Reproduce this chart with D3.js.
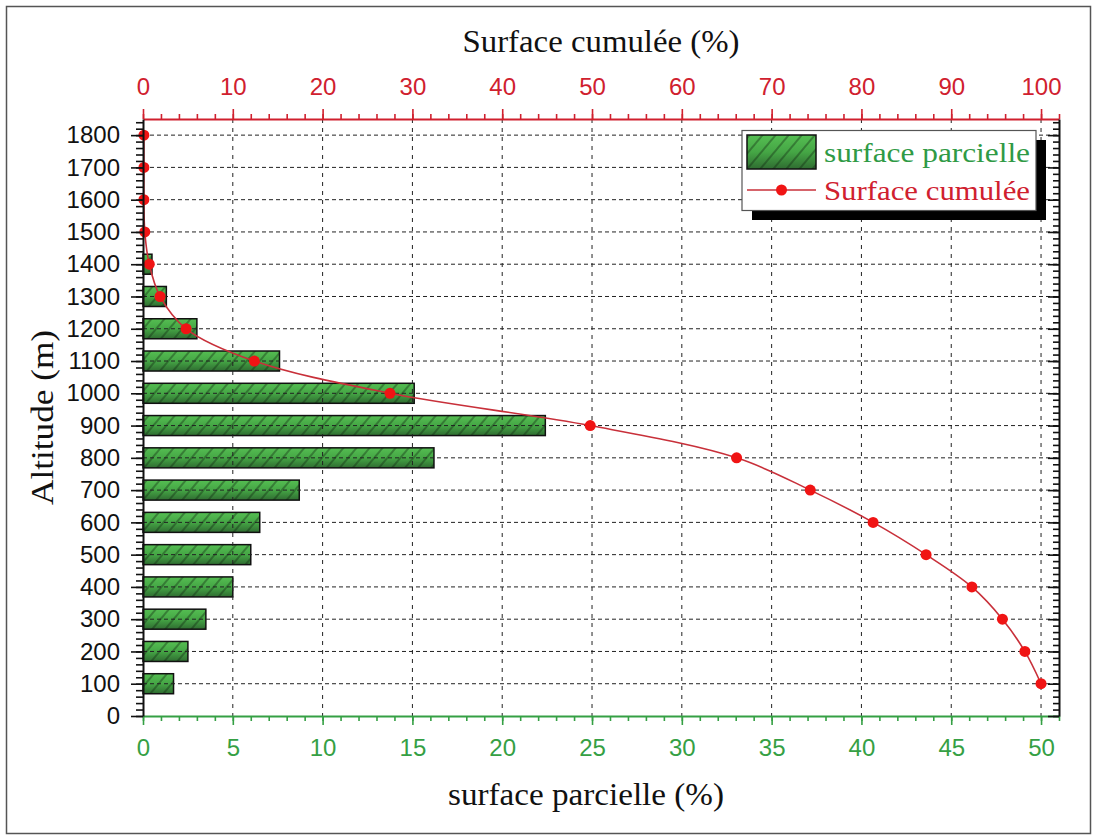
<!DOCTYPE html>
<html><head><meta charset="utf-8">
<script src="https://cdn.jsdelivr.net/npm/d3@7"></script>
<style>body{margin:0;background:#fff} svg{display:block}</style>
</head><body><svg id="c" width="1097" height="840"></svg>
<script>
// ---- data ----
const altitudes = [100,200,300,400,500,600,700,800,900,1000,1100,1200,1300,1400];
const partialSurface = [1.7,2.5,3.5,5.0,6.0,6.5,8.7,16.2,22.4,15.1,7.6,3.0,1.3,0.5];
const cumAltitudes = [100,200,300,400,500,600,700,800,900,1000,1100,1200,1300,1400,1500,1600,1700,1800];
const cumulativeSurface = [100,98.2,95.7,92.3,87.2,81.3,74.3,66.1,49.8,27.5,12.4,4.8,1.9,0.7,0.2,0.1,0.1,0.1];
const bottomTicks = [0,5,10,15,20,25,30,35,40,45,50];
const topTicks = [0,10,20,30,40,50,60,70,80,90,100];
const yTicks = [0,100,200,300,400,500,600,700,800,900,1000,1100,1200,1300,1400,1500,1600,1700,1800];
const seriesNames = ["surface parcielle","Surface cumulée"];
const titles = {top:"Surface cumulée (%)", bottom:"surface parcielle (%)", left:"Altitude (m)"};

// ---- layout ----
const L = 143, R = 1059, T = 119, B = 716;
const RED = "#d0202e", GREEN = "#35a044", LINE = "#c8303a", DOT = "#f01414";
const svg = d3.select("#c");
const x = d3.scaleLinear().domain([0, 51]).range([L, R]);
const xTop = d3.scaleLinear().domain([0, 102]).range([L, R]);
const y = d3.scaleLinear().domain([0, 1850]).range([B, T]);

// frame
svg.append("rect").attr("x",6.5).attr("y",6.5).attr("width",1084).attr("height",827)
  .attr("fill","#fff").attr("stroke","#555").attr("stroke-width",1.5);

// defs
const defs = svg.append("defs");
const grad = defs.append("linearGradient").attr("id","g").attr("x1",0).attr("y1",0).attr("x2",0).attr("y2",1);
grad.append("stop").attr("offset","0%").attr("stop-color","#55be52");
grad.append("stop").attr("offset","50%").attr("stop-color","#45a645");
grad.append("stop").attr("offset","100%").attr("stop-color","#2f6c31");
const pat = defs.append("pattern").attr("id","h").attr("patternUnits","userSpaceOnUse")
  .attr("width",10).attr("height",10).attr("patternTransform","rotate(40)");
pat.append("line").attr("x1",1).attr("y1",-1).attr("x2",1).attr("y2",11)
  .attr("stroke","#0f240f").attr("stroke-width",1).attr("opacity",0.75);

// bars
const barH = y(0) - y(62);
const bars = svg.append("g");
altitudes.forEach((a,i)=>{
  const g = bars.append("g");
  g.append("rect").attr("x",x(0)).attr("y",y(a)-barH/2).attr("width",x(partialSurface[i])-x(0)).attr("height",barH)
    .attr("fill","url(#g)");
  g.append("rect").attr("x",x(0)).attr("y",y(a)-barH/2).attr("width",x(partialSurface[i])-x(0)).attr("height",barH)
    .attr("fill","url(#h)").attr("stroke","#111").attr("stroke-width",1.5);
});

// grid
const grid = svg.append("g").attr("stroke","#222").attr("stroke-width",1);
bottomTicks.filter(d=>d>0).forEach(d=>{
  grid.append("line").attr("x1",x(d)).attr("x2",x(d)).attr("y1",T).attr("y2",B).attr("stroke-dasharray","4,5");
});
yTicks.filter(d=>d>0).forEach(d=>{
  grid.append("line").attr("x1",L).attr("x2",R).attr("y1",y(d)).attr("y2",y(d)).attr("stroke-dasharray","4,3");
});

// cumulative line
const pts = cumAltitudes.map((a,i)=>[xTop(cumulativeSurface[i]), y(a)]);
svg.append("path").attr("d", d3.line().curve(d3.curveCatmullRom)(pts))
  .attr("fill","none").attr("stroke",LINE).attr("stroke-width",1.6);
svg.append("g").selectAll("circle").data(pts).join("circle")
  .attr("cx",d=>d[0]).attr("cy",d=>d[1]).attr("r",5.5).attr("fill",DOT);

// axes
function styleAxis(g, color, fs){
  g.select(".domain").attr("stroke",color).attr("stroke-width",2);
  g.selectAll(".tick line").attr("stroke",color).attr("stroke-width",1.6);
  g.selectAll("text").attr("fill",color).attr("font-family","'Liberation Sans', Arial, sans-serif").attr("font-size",fs);
}
const FS = 24;
// bottom
const gbm = svg.append("g").attr("transform",`translate(0,${B})`)
  .call(d3.axisBottom(x).tickValues(d3.range(0,52,1)).tickSize(5).tickFormat(""));
styleAxis(gbm, GREEN, FS); gbm.select(".domain").remove();
const gb = svg.append("g").attr("transform",`translate(0,${B})`)
  .call(d3.axisBottom(x).tickValues(bottomTicks).tickSize(9).tickPadding(14).tickFormat(d3.format("d")).tickSizeOuter(0));
styleAxis(gb, GREEN, FS);
// top
const gtm = svg.append("g").attr("transform",`translate(0,${T})`)
  .call(d3.axisTop(xTop).tickValues(d3.range(0,103,2)).tickSize(5).tickFormat(""));
styleAxis(gtm, RED, FS); gtm.select(".domain").remove();
const gt = svg.append("g").attr("transform",`translate(0,${T})`)
  .call(d3.axisTop(xTop).tickValues(topTicks).tickSize(10).tickPadding(14).tickFormat(d3.format("d")).tickSizeOuter(0));
styleAxis(gt, RED, FS);
// left
const glm = svg.append("g").attr("transform",`translate(${L},0)`)
  .call(d3.axisLeft(y).tickValues(d3.range(0,1851,20)).tickSize(7).tickFormat(""));
styleAxis(glm, "#111", FS); glm.select(".domain").remove();
const gl = svg.append("g").attr("transform",`translate(${L},0)`)
  .call(d3.axisLeft(y).tickValues(yTicks).tickSize(12).tickPadding(11).tickFormat(d3.format("d")).tickSizeOuter(0));
styleAxis(gl, "#111", FS);
// right (inward ticks)
const grm = svg.append("g").attr("transform",`translate(${R},0)`)
  .call(d3.axisLeft(y).tickValues(d3.range(0,1851,20)).tickSize(6).tickFormat(""));
styleAxis(grm, "#111", FS); grm.select(".domain").remove();
const gr = svg.append("g").attr("transform",`translate(${R},0)`)
  .call(d3.axisLeft(y).tickValues(yTicks).tickSize(11).tickFormat("").tickSizeOuter(0));
styleAxis(gr, "#111", FS);

// titles
const serif = "'Liberation Serif','Times New Roman',serif";
svg.append("text").attr("x",(L+R)/2).attr("y",52).attr("text-anchor","middle")
  .attr("font-family",serif).attr("font-size",31).attr("fill","#111")
  .attr("textLength",277).attr("lengthAdjust","spacingAndGlyphs").text(titles.top);
svg.append("text").attr("x",586).attr("y",805).attr("text-anchor","middle")
  .attr("font-family",serif).attr("font-size",31).attr("fill","#111")
  .attr("textLength",276).attr("lengthAdjust","spacingAndGlyphs").text(titles.bottom);
svg.append("text").attr("transform",`translate(53,${(T+B)/2}) rotate(-90)`).attr("text-anchor","middle")
  .attr("font-family",serif).attr("font-size",31).attr("fill","#111")
  .attr("textLength",175).attr("lengthAdjust","spacingAndGlyphs").text(titles.left);

// legend
const lg = svg.append("g");
lg.append("rect").attr("x",752).attr("y",140).attr("width",294).attr("height",80).attr("fill","#000");
lg.append("rect").attr("x",742).attr("y",130.5).attr("width",294).attr("height",80).attr("fill","#fff").attr("stroke","#555").attr("stroke-width",1.2);
lg.append("rect").attr("x",747).attr("y",135).attr("width",69).attr("height",34).attr("fill","url(#g)");
lg.append("rect").attr("x",747).attr("y",135).attr("width",69).attr("height",34).attr("fill","url(#h)").attr("stroke","#111").attr("stroke-width",1.5);
lg.append("line").attr("x1",747).attr("x2",816).attr("y1",190).attr("y2",190).attr("stroke",LINE).attr("stroke-width",1.6);
lg.append("circle").attr("cx",781.5).attr("cy",190).attr("r",5.5).attr("fill",DOT);
lg.append("text").attr("x",824).attr("y",162).attr("font-family",serif).attr("font-size",27).attr("fill","#2f9a45")
  .attr("textLength",206).attr("lengthAdjust","spacingAndGlyphs").text(seriesNames[0]);
lg.append("text").attr("x",824).attr("y",200).attr("font-family",serif).attr("font-size",27).attr("fill",RED)
  .attr("textLength",206).attr("lengthAdjust","spacingAndGlyphs").text(seriesNames[1]);
</script></body></html>
